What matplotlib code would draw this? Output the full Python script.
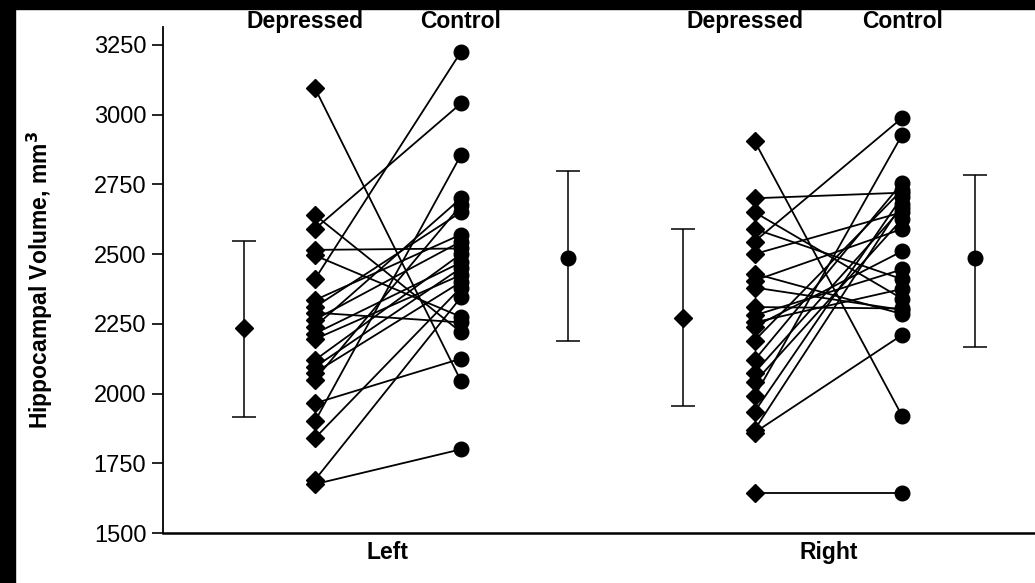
import matplotlib
matplotlib.use("Agg")
import matplotlib.pyplot as plt
from matplotlib.patches import Rectangle

plt.rcParams['font.family'] = ['Liberation Sans', 'DejaVu Sans']

# ---------------- data ----------------
groups = ["Left", "Right"]
column_labels = ["Depressed", "Control"]

left_depressed = [3095, 2640, 2590, 2515, 2495, 2410, 2335, 2310, 2290, 2265, 2240,
                  2215, 2195, 2120, 2095, 2075, 2050, 1965, 1900, 1840, 1690, 1675]
left_control = [2045, 2220, 3040, 2520, 2275, 3225, 2570, 2650, 2255, 2545, 2700,
                2470, 2425, 2500, 2450, 2400, 2675, 2125, 2855, 2380, 2345, 1800]

right_depressed = [2905, 2700, 2650, 2590, 2545, 2500, 2430, 2405, 2380, 2310, 2280,
                   2255, 2240, 2190, 2120, 2075, 2040, 1990, 1935, 1870, 1860, 1645]
right_control = [1920, 2720, 2340, 2410, 2988, 2650, 2285, 2590, 2300, 2305, 2445,
                 2375, 2510, 2730, 2755, 2665, 2625, 2927, 2705, 2680, 2210, 1645]

# mean, lower, upper of error bars
left_dep_summary = [2235, 1915, 2547]
left_ctl_summary = [2486, 2190, 2798]
right_dep_summary = [2271, 1955, 2590]
right_ctl_summary = [2486, 2168, 2782]

yticks = [1500, 1750, 2000, 2250, 2500, 2750, 3000, 3250]

# ---------------- layout ----------------
W, H = 1035, 583
fig = plt.figure(figsize=(W / 100, H / 100), dpi=100)
fig.patch.set_facecolor("white")
ax = fig.add_axes([163 / W, 1 - 533 / H, 1 - 163 / W, (533 - 27) / H])

# x positions (in axis units)
pos = {
    "Left": dict(dmean=0.555, dep=1.04, ctl=2.04, cmean=2.77),
    "Right": dict(dmean=3.56, dep=4.05, ctl=5.06, cmean=5.56),
}
data = {
    "Left": (left_depressed, left_control, left_dep_summary, left_ctl_summary),
    "Right": (right_depressed, right_control, right_dep_summary, right_ctl_summary),
}

for g in groups:
    dep, ctl, dsum, csum = data[g]
    p = pos[g]
    for d, c in zip(dep, ctl):
        ax.plot([p["dep"], p["ctl"]], [d, c], color="black", lw=1.3, zorder=2)
    ax.plot([p["dep"]] * len(dep), dep, ls="none", marker="D", ms=9,
            color="black", zorder=3)
    ax.plot([p["ctl"]] * len(ctl), ctl, ls="none", marker="o", ms=10.5,
            color="black", zorder=3)
    # summary error bars
    for xk, s, mk, msz in (("dmean", dsum, "D", 9.5), ("cmean", csum, "o", 10.5)):
        m, lo, hi = s
        ax.errorbar([p[xk]], [m], yerr=[[m - lo], [hi - m]], fmt=mk, ms=msz,
                    color="black", ecolor="black", elinewidth=1.1,
                    capsize=8.5, capthick=1.1, zorder=3)
    # column headers
    ax.text(p["dep"] - 0.065, 1.0 - 1 / 506, column_labels[0],
            transform=ax.get_xaxis_transform(),
            ha="center", va="baseline", fontsize=16.5, fontweight="bold")
    ax.text(p["ctl"], 1.0 - 1 / 506, column_labels[1],
            transform=ax.get_xaxis_transform(),
            ha="center", va="baseline", fontsize=16.5, fontweight="bold")

ax.set_xlim(0, 5.97)
ax.set_ylim(1500, 3314)
ax.set_yticks(yticks)
ax.set_yticklabels([str(t) for t in yticks], fontsize=17)
ax.tick_params(axis="y", direction="out", length=8, width=1.2, pad=4)
ax.set_xticks([(pos[g]["dep"] + pos[g]["ctl"]) / 2 for g in groups])
ax.set_xticklabels(groups, fontsize=16.5, fontweight="bold")
ax.tick_params(axis="x", length=0, pad=6)

for s in ("top", "right"):
    ax.spines[s].set_visible(False)
ax.spines["left"].set_linewidth(1.3)
ax.spines["bottom"].set_linewidth(1.8)
ax.spines["left"].set_bounds(1500, 3314)

ax.set_ylabel("Hippocampal Volume, mm$^\\mathbf{3}$", fontsize=16.5, fontweight="bold")
ax.yaxis.set_label_coords(-0.124, 0.5)

# black scan borders
fig.add_artist(Rectangle((0, 1 - 9 / H), 1, 9 / H, transform=fig.transFigure,
                         color="black", zorder=10))
fig.add_artist(Rectangle((0, 0), 15 / W, 1, transform=fig.transFigure,
                         color="black", zorder=10))

fig.savefig("out.png", dpi=100, facecolor="white")
